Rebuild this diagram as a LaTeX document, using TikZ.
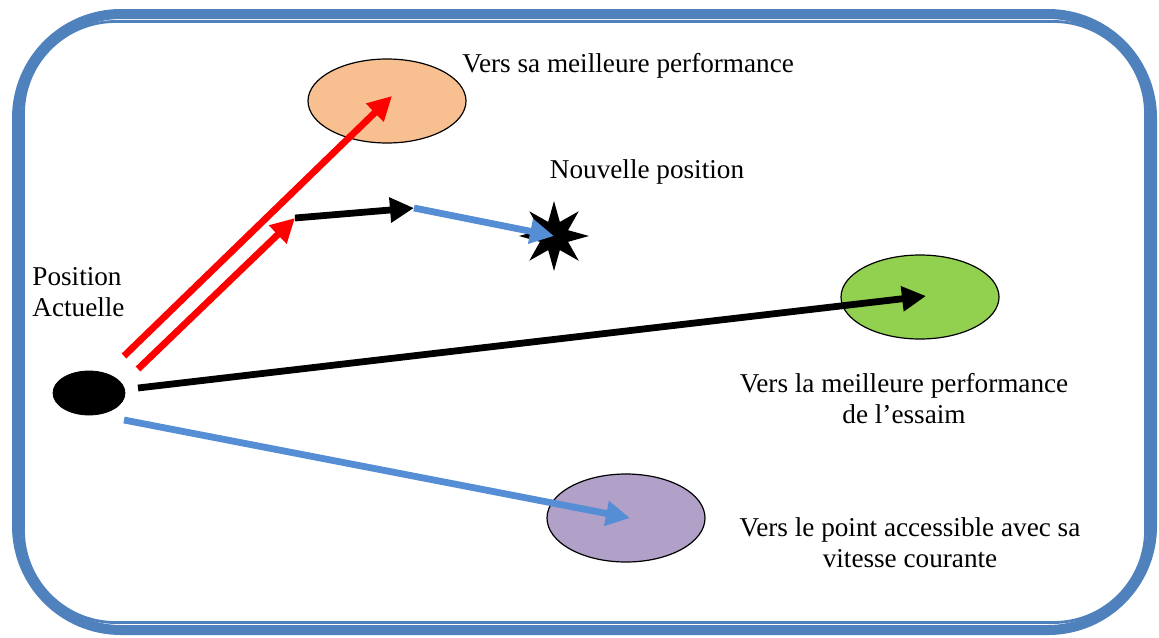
\documentclass[tikz,border=0pt]{standalone}
\usepackage{fontspec}
\setmainfont{Liberation Serif}
\usetikzlibrary{arrows.meta,shapes.geometric}
\definecolor{frameblue}{RGB}{79,129,189}
\definecolor{speedblue}{RGB}{85,142,213}
\definecolor{bestorange}{RGB}{248,192,144}
\definecolor{swarmgreen}{RGB}{146,208,80}
\definecolor{reachpurple}{RGB}{177,160,199}

\begin{document}
\begin{tikzpicture}[
  x=0.5pt, y=-0.5pt,
  zone/.style={draw, ellipse, line width=0.6pt, minimum width=79pt, minimum height=42pt},
  lbl/.style={font=\fontsize{13.6}{15.5}\selectfont, align=center, inner sep=0pt},
  move/.style={line width=3.4pt, -{Triangle[length=12pt, width=12pt]}},
]
\useasboundingbox (0,0) rectangle (1159,637);

% double frame
\draw[frameblue, line width=5pt, rounded corners=52pt] (17,14) rectangle (1152,630);
\draw[frameblue, line width=1.4pt, rounded corners=46pt] (23.5,21.5) rectangle (1145.5,622.5);

% particle and targets
\node[draw, ellipse, fill=black, minimum width=36pt, minimum height=22pt] (current) at (89,393) {};
\node[zone, fill=bestorange] (best) at (387,101) {};
\node[zone, fill=swarmgreen] (swarm) at (920,297) {};
\node[zone, fill=reachpurple, minimum height=44pt] (reach) at (626,518) {};
\node[star, star points=8, star point ratio=2.3, fill=black, inner sep=0pt, minimum size=35pt] (newpos) at (554,236) {};

% labels
\node[lbl, anchor=west] (bestlbl) at (462,66) {Vers sa meilleure performance};
\node[lbl] (newlbl) at (647,172) {Nouvelle position};
\node[lbl, align=left, anchor=west] (curlbl) at (32,292) {Position\\Actuelle};
\node[lbl] (swarmlbl) at (904,399) {Vers la meilleure performance\\de l’essaim};
\node[lbl] (reachlbl) at (910,543) {Vers le point accessible avec sa\\vitesse courante};

% arrow ends
\coordinate (r1s) at (124,356);
\coordinate (r1e) at (392,96);
\coordinate (r2s) at (138,369);
\coordinate (r2e) at (295,218);
\coordinate (k1e) at (414,208);
\coordinate (ks) at (138,388);
\coordinate (ke) at (926,296);
\coordinate (bs) at (124,420);
\coordinate (be) at (630,518);

\draw[move, red] (r1s) -- (r1e);
\draw[move, red] (r2s) -- (r2e);
\draw[move, black] (r2e) -- (k1e);
\draw[move, speedblue] (k1e) -- (newpos.center);
\draw[move, black] (ks) -- (ke);
\draw[move, speedblue] (bs) -- (be);
\end{tikzpicture}
\end{document}
